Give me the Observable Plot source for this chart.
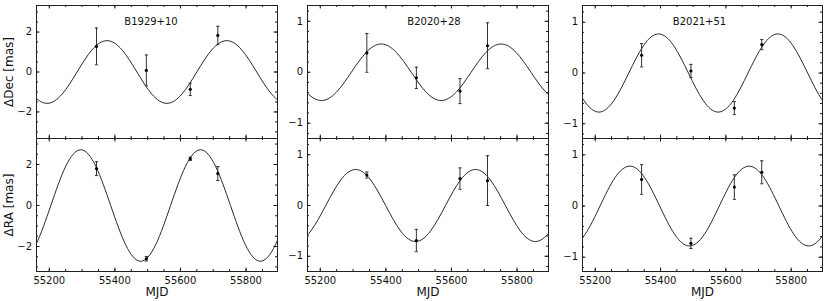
<!DOCTYPE html>
<html><head><meta charset="utf-8">
<script src="https://cdn.jsdelivr.net/npm/d3@7"></script>
<script src="https://cdn.jsdelivr.net/npm/@observablehq/plot@0.6"></script>
<style>
body{margin:0;background:#fff;}
#c{position:relative;width:830px;height:301px;overflow:hidden;background:#fff;}
#c svg{position:absolute;overflow:visible;max-width:none;}
</style></head><body><div id="c"></div>
<script>
// ---------- data ----------
const pulsarNames = ["B1929+10", "B2020+28", "B2021+51"];

const xDomain = [55161, 55896];
const xMajorTicks = [55200, 55400, 55600, 55800];
const xMinorTicks = [55200, 55250, 55300, 55350, 55400, 55450, 55500, 55550, 55600, 55650, 55700, 55750, 55800, 55850];
const yTicksWide = [-2, 0, 2];
const yMinorWide = [-3, -2.5, -2, -1.5, -1, -0.5, 0, 0.5, 1, 1.5, 2, 2.5, 3];
const yTicksNarrow = [-1, 0, 1];
const yMinorNarrow = [-1.2, -1, -0.8, -0.6, -0.4, -0.2, 0, 0.2, 0.4, 0.6, 0.8, 1, 1.2];

// measured positions (mas) with 1-sigma errors
const epochsB1929 = [55344, 55496, 55630, 55714];
const decB1929 = [1.28, 0.08, -0.87, 1.83];
const decErrB1929 = [0.92, 0.77, 0.31, 0.46];
const raB1929 = [1.80, -2.60, 2.28, 1.56];
const raErrB1929 = [0.34, 0.11, 0.08, 0.34];

const epochsB2020 = [55342, 55493, 55626, 55710];
const decB2020 = [0.38, -0.11, -0.37, 0.52];
const decErrB2020 = [0.38, 0.21, 0.245, 0.45];
const raB2020 = [0.60, -0.69, 0.53, 0.49];
const raErrB2020 = [0.06, 0.22, 0.21, 0.49];

const epochsB2021 = [55342, 55493, 55626, 55710];
const decB2021 = [0.35, 0.04, -0.69, 0.56];
const decErrB2021 = [0.23, 0.13, 0.13, 0.10];
const raB2021 = [0.52, -0.73, 0.37, 0.66];
const raErrB2021 = [0.29, 0.10, 0.24, 0.225];

// model parallax curves at knots
const modelDecMJD_B1929 = [55102.1, 55147.7, 55193.4, 55239.0, 55284.7, 55330.3, 55376.0, 55421.7, 55467.3, 55513.0, 55558.6, 55604.3, 55649.9, 55695.6, 55741.3, 55786.9, 55832.6, 55878.2, 55923.9, 55969.5, 56015.2];
const modelDec_B1929 = [0, -1.11, -1.57, -1.11, 0, 1.11, 1.57, 1.11, 0, -1.11, -1.57, -1.11, 0, 1.11, 1.57, 1.11, 0, -1.11, -1.57, -1.11, 0];
const modelRaMJD_B1929 = [55022.1, 55067.7, 55113.4, 55159.0, 55204.7, 55250.3, 55296.0, 55341.7, 55387.3, 55433.0, 55478.6, 55524.3, 55569.9, 55615.6, 55661.3, 55706.9, 55752.6, 55798.2, 55843.9, 55889.5, 55935.2];
const modelRa_B1929 = [0, -1.92, -2.72, -1.92, 0, 1.92, 2.72, 1.92, 0, -1.92, -2.72, -1.92, 0, 1.92, 2.72, 1.92, 0, -1.92, -2.72, -1.92, 0];

const modelDecMJD_B2020 = [55112.1, 55157.7, 55203.4, 55249.0, 55294.7, 55340.3, 55386.0, 55431.7, 55477.3, 55523.0, 55568.6, 55614.3, 55659.9, 55705.6, 55751.3, 55796.9, 55842.6, 55888.2, 55933.9, 55979.5, 56025.2];
const modelDec_B2020 = [0, -0.392, -0.555, -0.392, 0, 0.392, 0.555, 0.392, 0, -0.392, -0.555, -0.392, 0, 0.392, 0.555, 0.392, 0, -0.392, -0.555, -0.392, 0];
const modelRaMJD_B2020 = [55034.1, 55079.7, 55125.4, 55171.0, 55216.7, 55262.3, 55308.0, 55353.7, 55399.3, 55445.0, 55490.6, 55536.3, 55581.9, 55627.6, 55673.3, 55718.9, 55764.6, 55810.2, 55855.9, 55901.5, 55947.2];
const modelRa_B2020 = [0, -0.502, -0.71, -0.502, 0, 0.502, 0.71, 0.502, 0, -0.502, -0.71, -0.502, 0, 0.502, 0.71, 0.502, 0, -0.502, -0.71, -0.502, 0];

const modelDecMJD_B2021 = [55120.1, 55165.7, 55211.4, 55257.0, 55302.7, 55348.3, 55394.0, 55439.7, 55485.3, 55531.0, 55576.6, 55622.3, 55667.9, 55713.6, 55759.3, 55804.9, 55850.6, 55896.2, 55941.9, 55987.5, 56033.2];
const modelDec_B2021 = [0, -0.544, -0.77, -0.544, 0, 0.544, 0.77, 0.544, 0, -0.544, -0.77, -0.544, 0, 0.544, 0.77, 0.544, 0, -0.544, -0.77, -0.544, 0];
const modelRaMJD_B2021 = [55032.1, 55077.7, 55123.4, 55169.0, 55214.7, 55260.3, 55306.0, 55351.7, 55397.3, 55443.0, 55488.6, 55534.3, 55579.9, 55625.6, 55671.3, 55716.9, 55762.6, 55808.2, 55853.9, 55899.5, 55945.2];
const modelRa_B2021 = [0, -0.552, -0.78, -0.552, 0, 0.552, 0.78, 0.552, 0, -0.552, -0.78, -0.552, 0, 0.552, 0.78, 0.552, 0, -0.552, -0.78, -0.552, 0];

// ---------- drawing ----------
const fmt = d3.format("d");
const capSymbol = {draw(ctx, size) { const r = Math.sqrt(size / Math.PI); ctx.moveTo(-r, 0); ctx.lineTo(r, 0); }};

function panel(o) {
  const ml = 45, mr = 10, mt = 12, mb = 32;
  const W = o.w, H = 133;
  const pts = o.mjd.map((t, i) => ({t, v: o.val[i], e: o.err[i]}));
  const curve = o.cx.map((t, i) => ({t, v: o.cy[i]}));
  const ink = "#1a1a1a";
  const marks = [
    Plot.line(curve, {x: "t", y: "v", curve: "natural", stroke: "#2a2a2a", strokeWidth: 1, clip: true}),
    Plot.ruleX(pts, {x: "t", y1: d => d.v - d.e, y2: d => d.v + d.e, stroke: "#333", strokeWidth: 1}),
    Plot.dot(pts, {x: "t", y: d => d.v - d.e, symbol: capSymbol, r: 1.6, stroke: "#333", strokeWidth: 1}),
    Plot.dot(pts, {x: "t", y: d => d.v + d.e, symbol: capSymbol, r: 1.6, stroke: "#333", strokeWidth: 1}),
    Plot.dot(pts, {x: "t", y: "v", r: 1.6, fill: "#000", stroke: null}),
    // inward ticks on all four sides
    Plot.tickX(xMinorTicks, {x: d => d, insetTop: H - 2, stroke: ink}),
    Plot.tickX(xMinorTicks, {x: d => d, insetBottom: H - 2, stroke: ink}),
    Plot.tickX(xMajorTicks, {x: d => d, insetTop: H - 3.5, stroke: ink}),
    Plot.tickX(xMajorTicks, {x: d => d, insetBottom: H - 3.5, stroke: ink}),
    Plot.tickY(o.yMinor, {y: d => d, insetRight: W - 2, stroke: ink}),
    Plot.tickY(o.yMinor, {y: d => d, insetLeft: W - 2, stroke: ink}),
    Plot.tickY(o.yTicks, {y: d => d, insetRight: W - 3.5, stroke: ink}),
    Plot.tickY(o.yTicks, {y: d => d, insetLeft: W - 3.5, stroke: ink}),
    Plot.frame({stroke: "#222", strokeWidth: 1}),
    Plot.text(o.yTicks, {y: d => d, text: d => fmt(d), frameAnchor: "left", dx: -4.5, textAnchor: "end", lineAnchor: "middle", fill: "#111", fontSize: 10})
  ];
  if (o.xLabels) {
    marks.push(Plot.text(xMajorTicks, {x: d => d, text: d => String(d), frameAnchor: "bottom", dy: 9, lineAnchor: "middle", fill: "#111", fontSize: 10}));
    marks.push(Plot.text(["MJD"], {frameAnchor: "bottom", dy: 20.5, lineAnchor: "middle", fill: "#111", fontSize: 12}));
  }
  if (o.yLabel) {
    marks.push(Plot.text([o.yLabel], {frameAnchor: "left", rotate: -90, dx: -27, textAnchor: "middle", lineAnchor: "middle", fill: "#111", fontSize: 12}));
  }
  if (o.title) {
    marks.push(Plot.text([o.title], {frameAnchor: "top", dx: o.titleDx, dy: 16.7, lineAnchor: "middle", fill: "#111", fontSize: 10}));
  }
  const svg = Plot.plot({
    width: ml + W + mr, height: mt + H + mb,
    marginLeft: ml, marginRight: mr, marginTop: mt, marginBottom: mb,
    x: {domain: xDomain, axis: null},
    y: {domain: o.yDomain, axis: null},
    style: {fontFamily: '"DejaVu Sans", sans-serif', fontSize: "10px", background: "transparent", overflow: "visible"},
    marks
  });
  svg.style.left = (o.left - ml) + "px";
  svg.style.top = (o.top - mt) + "px";
  document.getElementById("c").appendChild(svg);
}

const colLeft = [36, 307, 582];
const colW = [241, 241, 240];
const rowTop = [5, 138];

const panels = [
  {col: 0, row: 0, mjd: epochsB1929, val: decB1929, err: decErrB1929, cx: modelDecMJD_B1929, cy: modelDec_B1929, yDomain: [-3.33, 3.33], yTicks: yTicksWide, yMinor: yMinorWide, title: pulsarNames[0], titleDx: -6, yLabel: "ΔDec [mas]"},
  {col: 0, row: 1, mjd: epochsB1929, val: raB1929, err: raErrB1929, cx: modelRaMJD_B1929, cy: modelRa_B1929, yDomain: [-3.22, 3.27], yTicks: yTicksWide, yMinor: yMinorWide, xLabels: true, yLabel: "ΔRA [mas]"},
  {col: 1, row: 0, mjd: epochsB2020, val: decB2020, err: decErrB2020, cx: modelDecMJD_B2020, cy: modelDec_B2020, yDomain: [-1.30, 1.31], yTicks: yTicksNarrow, yMinor: yMinorNarrow, title: pulsarNames[1], titleDx: 6},
  {col: 1, row: 1, mjd: epochsB2020, val: raB2020, err: raErrB2020, cx: modelRaMJD_B2020, cy: modelRa_B2020, yDomain: [-1.30, 1.32], yTicks: yTicksNarrow, yMinor: yMinorNarrow, xLabels: true},
  {col: 2, row: 0, mjd: epochsB2021, val: decB2021, err: decErrB2021, cx: modelDecMJD_B2021, cy: modelDec_B2021, yDomain: [-1.29, 1.33], yTicks: yTicksNarrow, yMinor: yMinorNarrow, title: pulsarNames[2], titleDx: -3},
  {col: 2, row: 1, mjd: epochsB2021, val: raB2021, err: raErrB2021, cx: modelRaMJD_B2021, cy: modelRa_B2021, yDomain: [-1.28, 1.32], yTicks: yTicksNarrow, yMinor: yMinorNarrow, xLabels: true}
];

for (const p of panels) {
  panel({...p, left: colLeft[p.col], top: rowTop[p.row], w: colW[p.col]});
}
</script>
</body></html>
